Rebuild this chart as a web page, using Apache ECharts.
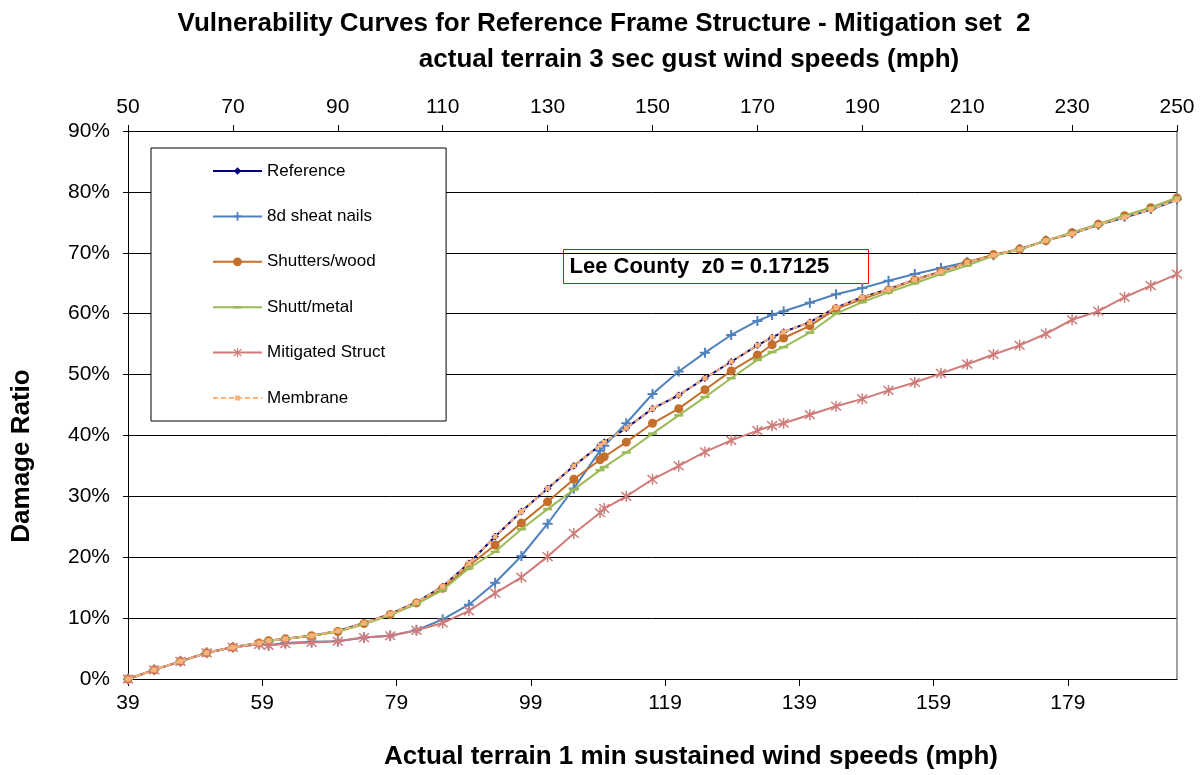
<!DOCTYPE html>
<html>
<head>
<meta charset="utf-8">
<script src="https://cdn.jsdelivr.net/npm/echarts@6/dist/echarts.min.js"></script>
<style>
  html, body { margin: 0; padding: 0; background: #fff; }
  #chart { width: 1201px; height: 775px; }
</style>
</head>
<body>
<div id="chart"></div>
<script>
// 3-sec gust wind speeds (mph) of the plotted points
const gustSpeeds = [50,55,60,65,70,75,76.8,80,85,90,95,100,105,110,115,120,125,130,135,140,140.8,145,150,155,160,165,170,172.8,175,180,185,190,195,200,205,210,215,220,225,230,235,240,245,250];

// Damage ratio (%) per series
const reference     = [0,1.5,2.9,4.3,5.2,5.9,6.3,6.6,7.1,7.9,9.2,10.7,12.6,15.2,19.0,23.4,27.5,31.3,35.0,38.4,38.9,41.2,44.4,46.6,49.4,52.1,54.8,56.1,57.0,58.6,61.0,62.7,64.0,65.6,66.9,68.4,69.6,70.6,72.0,73.1,74.6,75.8,77.1,78.7];
const sheatNails    = [0,1.5,2.9,4.3,5.2,5.7,5.6,5.9,6.1,6.2,6.8,7.1,8.0,9.8,12.2,15.8,20.2,25.5,31.3,37.5,38.3,42.0,46.8,50.5,53.6,56.5,58.8,59.8,60.4,61.8,63.2,64.2,65.4,66.5,67.5,68.5,69.6,70.6,72.0,73.2,74.6,75.9,77.2,78.8];
const shuttersWood  = [0,1.5,2.9,4.3,5.2,5.9,6.3,6.6,7.1,7.8,9.1,10.6,12.5,14.9,18.6,22.0,25.6,29.1,32.8,36.0,36.5,38.9,42.0,44.4,47.5,50.6,53.2,54.9,56.0,58.0,60.8,62.4,63.9,65.5,66.9,68.4,69.7,70.6,72.0,73.3,74.7,76.1,77.4,79.0];
const shuttMetal    = [0,1.5,2.9,4.3,5.2,5.9,6.3,6.6,7.1,7.8,9.0,10.5,12.3,14.6,18.2,20.9,24.6,27.9,31.1,34.3,34.8,37.2,40.3,43.3,46.3,49.4,52.4,53.7,54.5,56.9,60.0,61.9,63.5,65.0,66.5,67.9,69.5,70.5,72.0,73.3,74.7,76.1,77.4,79.1];
const mitigated     = [0,1.5,2.9,4.3,5.2,5.7,5.5,5.8,6.0,6.2,6.8,7.1,8.0,9.2,11.2,14.1,16.7,20.1,23.9,27.3,28.0,30.0,32.8,35.0,37.3,39.2,40.8,41.6,42.0,43.4,44.8,46.0,47.4,48.7,50.2,51.7,53.3,54.8,56.7,59.0,60.4,62.7,64.6,66.5];
const membrane      = [0,1.5,2.9,4.3,5.2,5.9,6.3,6.6,7.1,7.9,9.2,10.7,12.6,15.2,19.0,23.4,27.5,31.3,35.0,38.4,38.9,41.2,44.4,46.6,49.4,52.1,54.8,56.1,57.0,58.6,61.0,62.7,64.0,65.6,66.9,68.4,69.6,70.6,72.0,73.1,74.6,75.8,77.1,78.7];

const seriesNames = ['Reference','8d sheat nails','Shutters/wood','Shutt/metal','Mitigated Struct','Membrane'];

// axis ranges
const gustMin = 50, gustMax = 250, gustStep = 20;
const sustMin = 39.0625, sustMax = 195.3125, sustStep = 20; // 1-min sustained = gust * 0.78125
const yMin = 0, yMax = 90, yStep = 10;

const FONT = "'Liberation Sans', Arial, sans-serif";
const pts = arr => gustSpeeds.map((g, i) => [g, arr[i]]);

// marker shapes (square bounding boxes so they look the same in the legend)
const PLUS = 'path://M4,0H6V4H10V6H6V10H4V6H0V4H4Z';
const STAR = 'path://M4.4,0H5.6V10H4.4Z M0.6,1.5L1.5,0.6L9.4,8.5L8.5,9.4Z M8.5,0.6L9.4,1.5L1.5,9.4L0.6,8.5Z';
const DASH = 'path://M0,0 M10,10 M0,3.6H10V6.4H0Z';
const SMALLSQ = 'path://M0,0 M10,10 M2.2,2.2H7.8V7.8H2.2Z';
const SMALLDIA = 'path://M0,0 M10,10 M5,0.8L9.2,5L5,9.2L0.8,5Z';

function lineSeries(name, data, color, symbol, symbolSize, lineType, z) {
  return {
    name, type: 'line', xAxisIndex: 0, yAxisIndex: 0,
    data: pts(data), showSymbol: true, symbol, symbolSize, z,
    lineStyle: { color, width: 2, type: lineType || 'solid' },
    itemStyle: { color, borderWidth: 0 },
    emphasis: { disabled: true }
  };
}

const chart = echarts.init(document.getElementById('chart'), null, { renderer: 'canvas' });
chart.setOption({
  animation: false,
  backgroundColor: '#ffffff',
  textStyle: { fontFamily: FONT },
  title: [
    { text: 'Vulnerability Curves for Reference Frame Structure - Mitigation set  2', left: 604, top: 11, textAlign: 'center', padding: 0,
      textStyle: { fontFamily: FONT, fontSize: 26, fontWeight: 'bold', color: '#000' } },
    { text: 'actual terrain 3 sec gust wind speeds (mph)', left: 689, top: 47, textAlign: 'center', padding: 0,
      textStyle: { fontFamily: FONT, fontSize: 26, fontWeight: 'bold', color: '#000' } },
    { text: 'Actual terrain 1 min sustained wind speeds (mph)', left: 691, top: 744, textAlign: 'center', padding: 0,
      textStyle: { fontFamily: FONT, fontSize: 26, fontWeight: 'bold', color: '#000' } }
  ],
  grid: { left: 128, right: 24, top: 131, bottom: 96, containLabel: false },
  legend: {
    orient: 'vertical', left: 151, top: 148,
    padding: [14.5, 61, 14.5, 61],
    itemWidth: 49, itemHeight: 11, itemGap: 28.4,
    backgroundColor: '#fff', borderColor: '#000', borderWidth: 1,
    textStyle: { fontFamily: FONT, fontSize: 17, color: '#000' },
    data: seriesNames
  },
  xAxis: [
    { type: 'value', position: 'top', min: gustMin, max: gustMax, interval: gustStep,
      axisLine: { show: true, onZero: false, lineStyle: { color: '#000', width: 1 } },
      axisTick: { show: true, length: 6, lineStyle: { color: '#000' } },
      axisLabel: { fontFamily: FONT, fontSize: 21, color: '#000', margin: 13 },
      splitLine: { show: false } },
    { type: 'value', position: 'bottom', min: sustMin, max: sustMax, interval: sustStep,
      axisLine: { show: true, onZero: false, lineStyle: { color: '#000', width: 1 } },
      axisTick: { show: true, length: 7, lineStyle: { color: '#000' } },
      axisLabel: { fontFamily: FONT, fontSize: 21, color: '#000', margin: 14, showMaxLabel: false,
        formatter: v => (Math.abs(v - sustMax) < 1e-6 ? '' : String(Math.round(v))) },
      splitLine: { show: false } }
  ],
  yAxis: [
    { type: 'value', min: yMin, max: yMax, interval: yStep,
      axisLine: { show: true, lineStyle: { color: '#000', width: 1 } },
      axisTick: { show: true, length: 5, lineStyle: { color: '#000' } },
      axisLabel: { fontFamily: FONT, fontSize: 21, color: '#000', margin: 18, formatter: '{value}%' },
      splitLine: { show: true, lineStyle: { color: '#000', width: 1 } } },
    { type: 'value', position: 'right', min: yMin, max: yMax, interval: yStep,
      axisLine: { show: true, lineStyle: { color: '#808080', width: 1.5 } },
      axisTick: { show: false }, axisLabel: { show: false }, splitLine: { show: false } }
  ],
  graphic: [
    { type: 'text', x: 22, y: 456, rotation: Math.PI / 2, z: 10,
      style: { text: 'Damage Ratio', fontFamily: FONT, fontSize: 26, fontWeight: 'bold', fill: '#000',
               textAlign: 'center', textVerticalAlign: 'middle' } },
    { type: 'group', left: 563, top: 249, z: 20, children: [
      { type: 'rect', shape: { x: 0, y: 0, width: 305, height: 34 },
        style: { fill: '#fff', stroke: '#ff0000', lineWidth: 1 } },
      { type: 'text', x: 6, y: 17,
        style: { text: 'Lee County  z0 = 0.17125', fontFamily: FONT, fontSize: 22, fontWeight: 'bold', fill: '#000',
                 textAlign: 'left', textVerticalAlign: 'middle' } }
    ] }
  ],
  series: [
    lineSeries('Reference', reference, '#000080', SMALLDIA, 9, 'solid', 2),
    lineSeries('8d sheat nails', sheatNails, '#4F81BD', PLUS, 10, 'solid', 3),
    lineSeries('Shutters/wood', shuttersWood, '#C4702C', 'circle', 9, 'solid', 4),
    lineSeries('Shutt/metal', shuttMetal, '#9BBB59', DASH, 9, 'solid', 5),
    lineSeries('Mitigated Struct', mitigated, '#CF7B79', STAR, 11, 'solid', 6),
    lineSeries('Membrane', membrane, '#F9B27A', SMALLSQ, 9, [5, 3], 7)
  ]
});
</script>
</body>
</html>
